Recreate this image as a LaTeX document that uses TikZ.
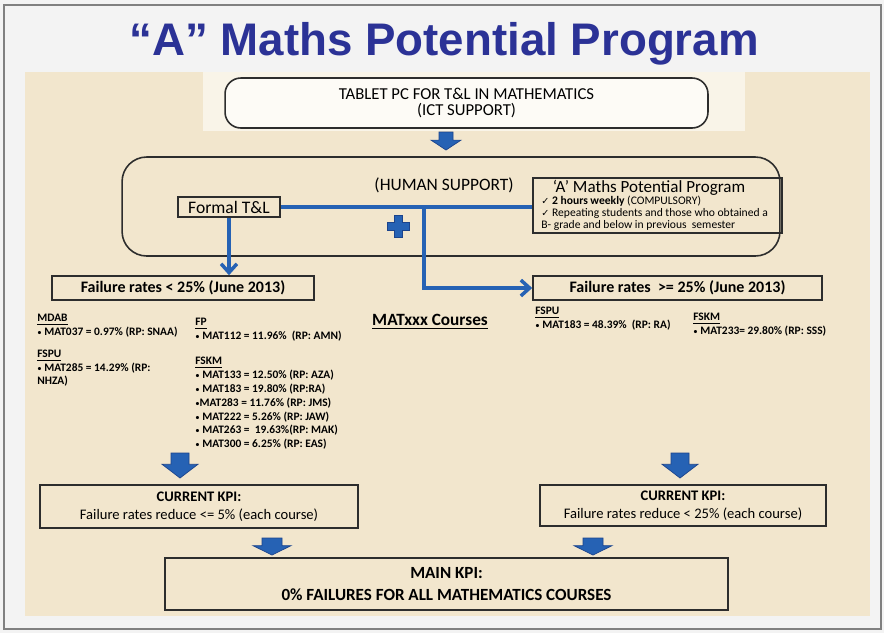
\documentclass[tikz,border=0pt]{standalone}
\usepackage{fontspec}
\setmainfont{Carlito}
\newfontfamily\titlefont{Liberation Sans}
\newfontfamily\symfont{DejaVu Sans}
\usetikzlibrary{arrows.meta,calc,positioning}
\definecolor{titleblue}{RGB}{43,50,150}
\definecolor{flowblue}{RGB}{38,98,180}
\definecolor{arrowedge}{RGB}{28,68,140}
\definecolor{parchment}{RGB}{242,230,205}
\definecolor{paleparch}{RGB}{249,244,232}
\definecolor{slidegray}{RGB}{243,243,243}
\definecolor{boxline}{RGB}{45,45,45}
\tikzset{>={Straight Barb[length=5pt,width=9pt]}}
\tikzset{
  roundbox/.style={draw=boxline, line width=0.9pt, rounded corners=9pt, align=center},
  plainbox/.style={draw=boxline, line width=0.9pt, align=center},
  flow/.style={flowblue, line width=2pt},
  blockarrow/.style={fill=flowblue, draw=arrowedge, line width=0.4pt},
  small/.style={font=\bfseries\fontsize{6.5}{7.6}\selectfont, align=left, anchor=north west, inner sep=0pt},
}
\newcommand{\tick}{{\symfont\fontsize{5.5}{6}\selectfont\char"2713}}
\newcommand{\bul}{{\mdseries\fontsize{5}{6}\selectfont •}}
% down block arrow: x, top y, length, shaft width, head width
\newcommand{\downblock}[5]{%
  \path[blockarrow] ({#1-#4/2},#2) -- ({#1+#4/2},#2) -- ({#1+#4/2},{#2+#3*0.45})
    -- ({#1+#5/2},{#2+#3*0.45}) -- (#1,{#2+#3}) -- ({#1-#5/2},{#2+#3*0.45})
    -- ({#1-#4/2},{#2+#3*0.45}) -- cycle;}

\begin{document}
\begin{tikzpicture}[x=0.02cm, y=-0.02cm]
  \useasboundingbox (0,0) rectangle (884,633);
  % slide background
  \fill[slidegray] (0,0) rectangle (884,633);
  \draw[gray, line width=0.8pt] (4,5) rectangle (881,629);
  \fill[parchment] (25,72) rectangle (870,616);
  \fill[paleparch] (203,72) rectangle (745,131);

  \node[font=\titlefont\bfseries\fontsize{26}{30}\selectfont, text=titleblue, anchor=base] (title) at (444,55) {“A” Maths Potential Program};

  % top part
  \node[roundbox, fill=white!60!paleparch, minimum width=9.66cm, minimum height=1cm, font=\fontsize{9.5}{9.2}\selectfont] (tablet) at (466.5,103) {TABLET PC FOR T\&L IN MATHEMATICS\\(ICT SUPPORT)};
  \downblock{446}{132}{18}{14}{30}
  \node[roundbox, rounded corners=14pt, minimum width=13.16cm, minimum height=1.98cm] (human) at (451,206.5) {};
  \node[font=\fontsize{9.9}{11}\selectfont] (humanlbl) at (444,185) {(HUMAN SUPPORT)};
  \node[plainbox, minimum width=2.04cm, minimum height=0.4cm, inner sep=0pt, font=\fontsize{10}{11}\selectfont] (formal) at (229,207) {Formal T\&L};
  \node[plainbox, minimum width=4.98cm, minimum height=1.1cm, inner sep=0pt] (amp) at (657.5,205.5) {};
  \node[font=\fontsize{9.7}{11}\selectfont, inner sep=0pt] (amptitle) at (649,188) {`A' Maths Potential Program};
  \node[small, font=\fontsize{6.6}{6.85}\selectfont] (ampitems) at (541,196) {\tick\ \textbf{2 hours weekly} (COMPULSORY)\\ \tick\ Repeating students and those who obtained a\\ B- grade and below in previous\ \ semester};

  % plus sign
  \path[blockarrow] (394,215) -- (402,215) -- (402,222) -- (409,222) -- (409,230) -- (402,230)
    -- (402,237) -- (394,237) -- (394,230) -- (387,230) -- (387,222) -- (394,222) -- cycle;

  % failure rate boxes
  \node[plainbox, minimum width=5.24cm, minimum height=0.48cm, inner sep=0pt, font=\bfseries\fontsize{9.1}{10}\selectfont] (flow) at (183,288) {Failure rates < 25\% (June 2013)};
  \node[plainbox, minimum width=5.78cm, minimum height=0.48cm, inner sep=0pt, font=\bfseries\fontsize{9.1}{10}\selectfont] (fhigh) at (677.5,288) {Failure rates\ \ >= 25\% (June 2013)};

  % connectors
  \coordinate (split) at (424,207);
  \draw[flow] (formal.east) -- (formal.east -| amp.west);
  \draw[flow, ->] (split) |- (fhigh.west);
  \draw[flow, ->] (formal.south) -- (formal.south |- flow.north);

  % course lists
  \node[font=\bfseries\fontsize{9.8}{11}\selectfont] (matxxx) at (430,322) {\underline{MATxxx Courses}};
  \node[small] (mdab) at (37,314) {\underline{MDAB}\\ \bul\ MAT037 = 0.97\% (RP: SNAA)};
  \node[small] (fspul) at (37,350) {\underline{FSPU}\\ \bul\ MAT285 = 14.29\% (RP:\\ NHZA)};
  \node[small] (fp) at (195,318) {\underline{FP}\\ \bul\ MAT112 = 11.96\%\ \ (RP: AMN)};
  \node[small, font=\bfseries\fontsize{6.5}{7.85}\selectfont] (fskml) at (195,357) {\underline{FSKM}\\ \bul\ MAT133 = 12.50\% (RP: AZA)\\ \bul\ MAT183 = 19.80\% (RP:RA)\\ \bul MAT283 = 11.76\% (RP: JMS)\\ \bul\ MAT222 = 5.26\% (RP: JAW)\\ \bul\ MAT263 =\ \ 19.63\%(RP: MAK)\\ \bul\ MAT300 = 6.25\% (RP: EAS)};
  \node[small] (fspur) at (535,307) {\underline{FSPU}\\ \bul\ MAT183 = 48.39\%\ \ (RP: RA)};
  \node[small] (fskmr) at (693,313) {\underline{FSKM}\\ \bul\ MAT233= 29.80\% (RP: SSS)};

  % KPI boxes
  \downblock{180}{453}{25}{18}{36}
  \downblock{680}{453}{25}{18}{36}
  \node[plainbox, minimum width=6.36cm, minimum height=0.86cm, font=\fontsize{8.3}{10.3}\selectfont] (kpilow) at (199,506.5) {\textbf{CURRENT KPI:}\\Failure rates reduce <= 5\% (each course)};
  \node[plainbox, minimum width=5.72cm, minimum height=0.82cm, font=\fontsize{8.3}{10.3}\selectfont] (kpihigh) at (683,505.5) {\textbf{CURRENT KPI:}\\Failure rates reduce < 25\% (each course)};
  \downblock{272}{538}{17}{20}{38}
  \downblock{593}{538}{17}{20}{38}
  \node[plainbox, minimum width=11.26cm, minimum height=1.04cm, font=\bfseries\fontsize{9.7}{12}\selectfont] (mainkpi) at (446.5,584) {MAIN KPI:\\0\% FAILURES FOR ALL MATHEMATICS COURSES};
\end{tikzpicture}
\end{document}
